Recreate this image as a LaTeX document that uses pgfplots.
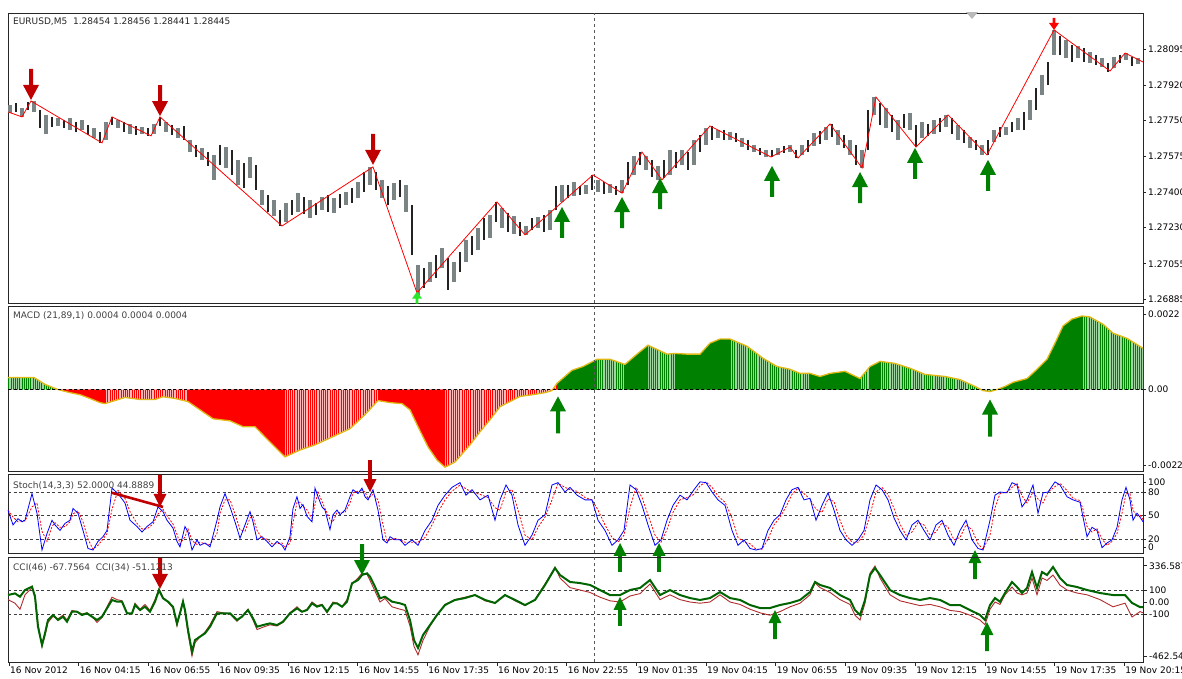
\documentclass[border=0pt]{standalone}
\usepackage{fontspec}
\setmainfont{DejaVu Sans}
\usepackage{pgfplots}
\pgfplotsset{compat=1.18}
\usepackage{pgfplotstable}
\usetikzlibrary{patterns.meta}
\newcommand{\lab}{\fontsize{9}{10}\selectfont}
\definecolor{arrred}{RGB}{192,0,0}
\definecolor{arrgreen}{RGB}{0,128,0}
\definecolor{bargray}{RGB}{122,132,132}
\definecolor{barblack}{RGB}{35,35,35}
\definecolor{mgreen}{RGB}{0,128,0}
\definecolor{lgreen}{RGB}{160,212,160}
\definecolor{mred}{RGB}{255,0,0}
\definecolor{lred}{RGB}{255,185,185}
\definecolor{sig}{RGB}{225,185,20}
\definecolor{ccigreen}{RGB}{0,100,0}
\definecolor{ccibrown}{RGB}{175,45,45}

\pgfdeclareplotmark{bigdn}{\pgfpathmoveto{\pgfqpoint{0pt}{0pt}}\pgfpathlineto{\pgfqpoint{-8pt}{15pt}}\pgfpathlineto{\pgfqpoint{-2pt}{15pt}}\pgfpathlineto{\pgfqpoint{-2pt}{31pt}}\pgfpathlineto{\pgfqpoint{2pt}{31pt}}\pgfpathlineto{\pgfqpoint{2pt}{15pt}}\pgfpathlineto{\pgfqpoint{8pt}{15pt}}\pgfpathclose\pgfusepathqfill}
\pgfdeclareplotmark{bigup}{\pgfpathmoveto{\pgfqpoint{0pt}{0pt}}\pgfpathlineto{\pgfqpoint{-8pt}{-15pt}}\pgfpathlineto{\pgfqpoint{-2pt}{-15pt}}\pgfpathlineto{\pgfqpoint{-2pt}{-31pt}}\pgfpathlineto{\pgfqpoint{2pt}{-31pt}}\pgfpathlineto{\pgfqpoint{2pt}{-15pt}}\pgfpathlineto{\pgfqpoint{8pt}{-15pt}}\pgfpathclose\pgfusepathqfill}
\pgfdeclareplotmark{macdup}{\pgfpathmoveto{\pgfqpoint{0pt}{0pt}}\pgfpathlineto{\pgfqpoint{-8pt}{-15pt}}\pgfpathlineto{\pgfqpoint{-2pt}{-15pt}}\pgfpathlineto{\pgfqpoint{-2pt}{-37pt}}\pgfpathlineto{\pgfqpoint{2pt}{-37pt}}\pgfpathlineto{\pgfqpoint{2pt}{-15pt}}\pgfpathlineto{\pgfqpoint{8pt}{-15pt}}\pgfpathclose\pgfusepathqfill}
\pgfdeclareplotmark{smdn}{\pgfpathmoveto{\pgfqpoint{0pt}{0pt}}\pgfpathlineto{\pgfqpoint{-6.5pt}{13pt}}\pgfpathlineto{\pgfqpoint{-1.8pt}{13pt}}\pgfpathlineto{\pgfqpoint{-1.8pt}{32pt}}\pgfpathlineto{\pgfqpoint{1.8pt}{32pt}}\pgfpathlineto{\pgfqpoint{1.8pt}{13pt}}\pgfpathlineto{\pgfqpoint{6.5pt}{13pt}}\pgfpathclose\pgfusepathqfill}
\pgfdeclareplotmark{smup}{\pgfpathmoveto{\pgfqpoint{0pt}{0pt}}\pgfpathlineto{\pgfqpoint{-6.5pt}{-13pt}}\pgfpathlineto{\pgfqpoint{-1.8pt}{-13pt}}\pgfpathlineto{\pgfqpoint{-1.8pt}{-29pt}}\pgfpathlineto{\pgfqpoint{1.8pt}{-29pt}}\pgfpathlineto{\pgfqpoint{1.8pt}{-13pt}}\pgfpathlineto{\pgfqpoint{6.5pt}{-13pt}}\pgfpathclose\pgfusepathqfill}
\pgfdeclareplotmark{tinydn}{\pgfpathmoveto{\pgfqpoint{0pt}{0pt}}\pgfpathlineto{\pgfqpoint{-5pt}{7pt}}\pgfpathlineto{\pgfqpoint{-1.3pt}{7pt}}\pgfpathlineto{\pgfqpoint{-1.3pt}{12pt}}\pgfpathlineto{\pgfqpoint{1.3pt}{12pt}}\pgfpathlineto{\pgfqpoint{1.3pt}{7pt}}\pgfpathlineto{\pgfqpoint{5pt}{7pt}}\pgfpathclose\pgfusepathqfill}
\pgfdeclareplotmark{tinyup}{\pgfpathmoveto{\pgfqpoint{0pt}{0pt}}\pgfpathlineto{\pgfqpoint{-5pt}{-7pt}}\pgfpathlineto{\pgfqpoint{-1.3pt}{-7pt}}\pgfpathlineto{\pgfqpoint{-1.3pt}{-12pt}}\pgfpathlineto{\pgfqpoint{1.3pt}{-12pt}}\pgfpathlineto{\pgfqpoint{1.3pt}{-7pt}}\pgfpathlineto{\pgfqpoint{5pt}{-7pt}}\pgfpathclose\pgfusepathqfill}

\pgfplotstableread{
x l h
10 1.27785 1.27824
16 1.27790 1.27833
22 1.27766 1.27809
28 1.27800 1.27838
34 1.27790 1.27843
40 1.27712 1.27800
46 1.27684 1.27776
52 1.27717 1.27766
58 1.27722 1.27761
64 1.27712 1.27751
70 1.27703 1.27761
76 1.27693 1.27741
82 1.27703 1.27751
88 1.27679 1.27727
94 1.27664 1.27712
100 1.27639 1.27693
106 1.27654 1.27741
112 1.27727 1.27766
118 1.27712 1.27751
124 1.27693 1.27741
130 1.27684 1.27732
136 1.27679 1.27722
142 1.27684 1.27717
148 1.27674 1.27712
154 1.27684 1.27732
160 1.27722 1.27766
166 1.27693 1.27741
172 1.27679 1.27727
178 1.27664 1.27712
184 1.27654 1.27722
190 1.27596 1.27654
196 1.27572 1.27630
202 1.27558 1.27615
208 1.27529 1.27596
214 1.27461 1.27582
220 1.27534 1.27630
226 1.27519 1.27620
232 1.27485 1.27606
238 1.27437 1.27558
244 1.27422 1.27543
250 1.27470 1.27572
256 1.27412 1.27534
262 1.27340 1.27412
268 1.27306 1.27388
274 1.27287 1.27364
280 1.27238 1.27316
286 1.27257 1.27349
292 1.27292 1.27364
298 1.27306 1.27397
304 1.27296 1.27378
310 1.27277 1.27364
316 1.27292 1.27349
322 1.27316 1.27378
328 1.27306 1.27388
334 1.27301 1.27373
340 1.27325 1.27393
346 1.27340 1.27402
352 1.27349 1.27422
358 1.27373 1.27451
364 1.27402 1.27499
370 1.27437 1.27524
376 1.27412 1.27499
382 1.27373 1.27461
388 1.27340 1.27432
394 1.27364 1.27446
400 1.27378 1.27461
406 1.27306 1.27437
412 1.27098 1.27340
418 1.26904 1.27050
424 1.26938 1.27035
430 1.26967 1.27064
436 1.26987 1.27098
442 1.27035 1.27132
448 1.26928 1.27083
454 1.26967 1.27064
460 1.27016 1.27112
466 1.27064 1.27170
472 1.27098 1.27190
478 1.27122 1.27229
484 1.27170 1.27277
490 1.27180 1.27292
496 1.27257 1.27354
502 1.27229 1.27325
508 1.27209 1.27301
514 1.27200 1.27287
520 1.27190 1.27257
526 1.27195 1.27238
532 1.27219 1.27277
538 1.27229 1.27282
544 1.27209 1.27292
550 1.27219 1.27316
556 1.27316 1.27432
562 1.27354 1.27437
568 1.27373 1.27437
574 1.27383 1.27451
580 1.27388 1.27432
586 1.27393 1.27437
592 1.27412 1.27485
598 1.27402 1.27461
604 1.27393 1.27451
610 1.27397 1.27441
616 1.27388 1.27432
622 1.27397 1.27461
628 1.27437 1.27548
634 1.27485 1.27577
640 1.27534 1.27596
646 1.27509 1.27577
652 1.27475 1.27558
658 1.27461 1.27529
664 1.27470 1.27558
670 1.27485 1.27606
676 1.27519 1.27596
682 1.27534 1.27606
688 1.27509 1.27596
694 1.27534 1.27654
700 1.27596 1.27679
706 1.27630 1.27712
712 1.27654 1.27722
718 1.27664 1.27703
724 1.27654 1.27703
730 1.27654 1.27693
736 1.27645 1.27688
742 1.27620 1.27664
748 1.27606 1.27654
754 1.27596 1.27630
760 1.27582 1.27615
766 1.27572 1.27606
772 1.27572 1.27606
778 1.27582 1.27615
784 1.27591 1.27625
790 1.27596 1.27630
796 1.27567 1.27606
802 1.27582 1.27630
808 1.27596 1.27654
814 1.27625 1.27688
820 1.27635 1.27698
826 1.27654 1.27717
832 1.27669 1.27732
838 1.27630 1.27703
844 1.27615 1.27679
850 1.27582 1.27654
856 1.27534 1.27630
862 1.27519 1.27606
868 1.27606 1.27800
874 1.27776 1.27862
880 1.27727 1.27833
886 1.27712 1.27809
892 1.27693 1.27776
898 1.27654 1.27751
904 1.27712 1.27780
910 1.27703 1.27785
916 1.27620 1.27727
922 1.27664 1.27741
928 1.27674 1.27732
934 1.27684 1.27751
940 1.27693 1.27761
946 1.27717 1.27776
952 1.27684 1.27761
958 1.27654 1.27727
964 1.27640 1.27703
970 1.27615 1.27669
976 1.27606 1.27654
982 1.27582 1.27630
988 1.27582 1.27654
994 1.27645 1.27703
1000 1.27669 1.27717
1006 1.27679 1.27717
1012 1.27693 1.27741
1018 1.27703 1.27761
1024 1.27703 1.27790
1030 1.27751 1.27848
1036 1.27800 1.27906
1042 1.27872 1.27969
1048 1.27920 1.28032
1054 1.28066 1.28187
1060 1.28066 1.28158
1066 1.28051 1.28138
1072 1.28032 1.28114
1078 1.28051 1.28109
1084 1.28032 1.28100
1090 1.28027 1.28080
1096 1.28017 1.28066
1102 1.28008 1.28051
1108 1.27983 1.28027
1114 1.28003 1.28056
1120 1.28027 1.28066
1126 1.28042 1.28075
1132 1.28013 1.28056
1138 1.28022 1.28051
}\price

\pgfplotstableread{
x v
8 0.00035
20 0.00035
34 0.00035
45 0.00015
58 0
70 -0.00009
80 -0.00015
90 -0.00026
100 -0.00038
105 -0.00041
115 -0.00032
125 -0.00023
140 -0.00029
155 -0.00029
163 -0.00021
175 -0.00026
188 -0.00035
200 -0.00059
213 -0.00085
230 -0.00091
243 -0.00108
255 -0.00108
265 -0.00138
275 -0.00167
285 -0.00196
300 -0.00176
315 -0.00161
330 -0.00141
350 -0.00114
365 -0.00073
378 -0.00032
390 -0.00038
402 -0.00041
410 -0.00059
418 -0.00108
428 -0.00167
437 -0.00205
445 -0.00226
455 -0.00211
470 -0.00161
480 -0.00123
490 -0.00088
500 -0.00050
510 -0.00035
520 -0.00020
533 -0.00015
545 -0.00009
552 -0.00003
557 0.00018
572 0.00056
583 0.00067
597 0.00088
610 0.00088
625 0.00073
637 0.00103
648 0.00129
667 0.00103
675 0.00105
687 0.00103
700 0.00103
710 0.00135
720 0.00147
730 0.00147
747 0.00126
763 0.00091
777 0.00067
790 0.00059
800 0.00047
810 0.00047
820 0.00038
830 0.00047
845 0.00053
860 0.00032
870 0.00067
880 0.00082
895 0.00076
910 0.00062
925 0.00044
945 0.00038
960 0.00029
975 0.00009
983 -0.00003
990 -0.00006
997 0
1005 0.00009
1013 0.00021
1027 0.00032
1037 0.00059
1047 0.00088
1055 0.00135
1063 0.00185
1072 0.00205
1082 0.00214
1090 0.00211
1103 0.00190
1113 0.00164
1127 0.00149
1143 0.00120
}\macd

\pgfplotstableread{
x k d
8 57 57
13 38 48
18 46 42
22 42 44
25 44 43
32 78 61
37 53 66
42 6 30
47 27 17
52 44 36
55 38 41
60 31 35
65 40 36
70 44 42
73 59 52
78 53 56
83 31 42
88 8 20
93 6 7
98 17 12
103 23 20
107 31 27
112 85 58
118 78 82
125 66 72
130 44 55
137 36 40
142 29 33
147 36 33
153 42 39
158 61 52
163 55 58
167 44 50
173 34 39
177 17 26
180 10 14
185 36 23
188 29 33
192 6 18
197 19 13
200 12 16
205 15 14
210 10 13
217 44 27
220 61 53
225 78 70
230 61 70
235 42 52
240 21 32
245 38 30
250 55 47
253 42 49
257 19 31
262 23 21
267 17 20
272 10 14
277 17 14
282 12 15
285 6 9
290 23 15
293 59 41
297 74 67
300 59 67
303 64 62
307 49 57
312 42 46
315 85 64
318 74 80
322 61 68
325 57 59
330 32 45
333 51 42
337 57 54
340 51 54
345 57 54
350 74 66
353 83 79
358 78 81
362 85 82
365 74 80
368 70 72
373 83 77
378 57 70
383 19 38
387 15 17
390 23 19
395 19 21
400 19 19
405 12 16
412 19 16
418 12 16
425 31 22
432 44 38
438 63 54
445 76 70
452 86 81
460 92 89
466 76 84
472 83 80
480 70 77
488 76 73
495 44 60
500 70 57
506 89 80
512 76 83
518 38 57
525 12 25
532 25 19
538 44 35
545 51 48
552 89 70
558 92 91
565 80 86
570 86 83
577 76 81
585 70 73
592 70 70
598 44 57
605 31 38
612 12 22
618 19 16
624 31 25
630 89 60
636 83 86
642 63 73
648 38 51
655 12 25
661 19 16
667 44 32
673 63 54
680 76 70
687 70 73
694 83 77
700 93 88
706 92 93
712 80 86
718 70 75
725 63 67
732 31 47
738 12 22
744 19 16
750 8 14
756 6 7
762 8 7
768 31 20
774 44 38
780 51 48
786 70 61
792 83 77
798 86 85
804 70 78
810 72 71
816 44 58
822 63 54
828 79 71
834 57 68
840 31 44
846 19 25
852 12 16
858 19 16
864 31 25
870 70 51
876 89 80
882 83 86
888 70 77
894 47 59
900 31 39
906 19 25
912 38 29
918 44 41
924 31 38
930 19 25
936 38 29
942 44 41
948 25 35
954 12 19
960 31 22
966 44 38
972 19 32
978 8 14
983 6 7
990 44 25
995 76 60
1000 80 78
1007 79 80
1012 92 86
1017 89 91
1022 61 75
1027 70 66
1033 89 80
1038 53 71
1043 79 66
1048 80 80
1055 93 87
1060 89 91
1067 74 82
1073 70 72
1080 67 69
1083 48 58
1087 23 36
1092 35 29
1097 31 33
1102 9 20
1107 15 12
1112 19 17
1117 35 27
1122 70 53
1126 86 78
1130 70 78
1133 44 57
1137 53 49
1140 48 51
1143 42 45
}\stoch

\pgfplotstableread{
x g b
8 58 20
15 72 -10
20 44 -60
25 100 60
32 128 120
35 44 60
38 -206 -180
42 -358 -370
45 -261 -280
48 -150 -170
53 -108 -120
58 -150 -140
63 -122 -110
67 -164 -150
72 -81 -70
77 -81 -80
82 -108 -100
87 -94 -90
92 -122 -120
97 -150 -170
102 -122 -130
107 -53 -40
112 17 40
117 3 20
122 3 10
127 -94 -90
132 -94 -100
135 -25 -10
140 -67 -60
145 -39 -20
150 -81 -70
155 3 20
159 100 110
163 31 40
168 3 0
173 -39 -50
177 -178 -200
180 -94 -90
183 3 10
185 -67 -90
188 -233 -260
192 -414 -450
195 -317 -340
200 -289 -290
205 -261 -250
210 -206 -190
217 -94 -80
223 -94 -90
230 -94 -100
237 -150 -160
242 -122 -120
248 -67 -60
253 -136 -150
257 -206 -230
263 -192 -210
270 -178 -190
277 -192 -200
283 -164 -170
290 -94 -90
297 -53 -40
302 -81 -80
307 -67 -60
312 -11 0
317 -39 -30
322 -25 -20
327 -81 -90
333 -11 0
337 -11 -10
342 -39 -40
347 3 20
352 156 150
358 183 200
362 225 240
367 239 230
370 211 180
375 128 90
380 31 0
385 44 30
392 3 -40
400 -11 -60
405 -25 -70
410 -150 -200
414 -317 -370
418 -383 -440
423 -275 -320
430 -192 -200
437 -108 -110
445 -25 -20
455 17 20
465 33 40
475 58 60
485 17 10
495 -8 -10
505 58 60
515 17 10
525 -25 -30
535 17 20
545 142 150
555 283 290
560 225 200
570 167 120
580 158 100
590 142 80
600 100 40
610 58 10
620 58 0
630 100 50
640 117 70
650 183 150
660 58 20
670 100 60
680 58 20
690 33 0
700 17 -10
710 33 0
720 83 60
730 33 0
740 17 -20
750 -25 -60
760 -50 -90
770 -50 -110
780 -25 -80
790 -8 -40
800 17 -10
810 83 60
815 167 160
820 142 120
830 117 80
840 58 20
850 17 -20
855 -67 -110
860 -108 -150
865 17 -10
870 225 240
875 283 300
880 225 200
890 100 60
900 58 10
910 33 -10
920 17 -30
930 33 -20
940 17 -40
950 -25 -70
960 -25 -80
970 -67 -110
980 -108 -150
985 -150 -190
990 -25 -60
995 33 0
1000 2 -20
1005 75 60
1012 167 125
1017 125 75
1022 75 60
1027 117 75
1032 250 200
1037 117 60
1042 250 200
1047 225 180
1053 292 225
1060 200 140
1067 142 100
1077 125 75
1087 100 60
1100 75 20
1113 58 -40
1125 58 -10
1132 -8 -125
1140 -42 -80
1143 -42 -90
}\cci

\pgfplotsset{
  mtpanel/.style={scale only axis, width=1135pt, anchor=north west, xmin=8, xmax=1143,
    axis line style={black!85, line width=0.9pt},
    tick align=outside, major tick length=3pt,
    tick style={black!85, line width=0.6pt},
    xtick=\empty, scaled y ticks=false, scaled x ticks=false,
    ytick pos=right, yticklabel pos=right,
    yticklabel style={font=\lab, anchor=west, inner sep=0pt, xshift=2pt}},
  lvl/.style={black!75, line width=0.7pt, dash pattern=on 3pt off 2.5pt},
  vsep/.style={black!65, line width=0.8pt, dash pattern=on 3pt off 3pt},
  pbar/.style 2 args={draw=none, mark=none, error bars/.cd, y dir=minus, y explicit, error mark=none,
    error bar style={draw=#1, line width=#2}},
}

\begin{document}
\begin{tikzpicture}[x=1pt,y=1pt]
\path[use as bounding box] (0pt,0pt) rectangle (1182pt,-678pt);

% ---------------- main price panel
\begin{axis}[mtpanel, at={(8pt,-13pt)}, height=290pt, ymin=1.26865, ymax=1.28269,
  ytick={1.28095,1.2792,1.2775,1.27575,1.274,1.2723,1.27055,1.26885},
  yticklabels={1.28095,1.27920,1.27750,1.27575,1.27400,1.27230,1.27055,1.26885}]
\addplot[x filter/.code={\ifodd\coordindex\relax\def\pgfmathresult{}\fi}, pbar={bargray}{3.2pt}]
  table[x=x, y=h, y error expr=\thisrow{h}-\thisrow{l}] {\price};
\addplot[x filter/.code={\ifodd\coordindex\relax\else\def\pgfmathresult{}\fi}, pbar={barblack}{2.6pt}]
  table[x=x, y=h, y error expr=\thisrow{h}-\thisrow{l}] {\price};
\addplot[vsep] coordinates {(594,1.26865) (594,1.28269)};
\addplot[red, line width=0.8pt] coordinates {(8,1.27790) (22,1.27766) (31,1.27843) (102,1.27640) (112,1.27766) (151,1.27674) (160,1.27766) (282,1.27238) (373,1.27524) (417,1.26914) (497,1.27354) (525,1.27195) (593,1.27485) (622,1.27397) (642,1.27596) (662,1.27461) (710,1.27722) (771,1.27572) (790,1.27620) (798,1.27567) (830,1.27732) (862,1.27519) (876,1.27862) (916,1.27620) (948,1.27776) (987,1.27582) (1054,1.28187) (1110,1.27988) (1125,1.28075) (1143,1.28032)};
\addplot[only marks, mark=bigdn, color=arrred] coordinates {(31,1.27848) (160,1.27770) (373,1.27534)};
\addplot[only marks, mark=tinydn, color=red] coordinates {(1054,1.28187)};
\addplot[only marks, mark=tinyup, color={rgb,255:red,40;green,230;blue,40}] coordinates {(417,1.26920)};
\addplot[only marks, mark=bigup, color=arrgreen] coordinates {(562,1.27330) (622,1.27378) (660,1.27470) (772,1.27529) (860,1.27499) (915,1.27616) (988,1.27558)};
\end{axis}

% ---------------- MACD panel
\begin{axis}[mtpanel, at={(8pt,-306pt)}, height=165pt, ymin=-0.00237, ymax=0.00243,
  ytick={0.0022,0,-0.0022}, yticklabels={0.0022,0.00,-0.0022}]
\addplot[draw=none, fill=lgreen, restrict x to domain=8:58] table[x=x,y=v]{\macd} \closedcycle;
\addplot[draw=none, pattern={Lines[angle=90,distance=2.2pt,line width=0.9pt]}, pattern color=mgreen, restrict x to domain=8:58] table[x=x,y=v]{\macd} \closedcycle;
\addplot[draw=none, fill=lred, restrict x to domain=58:557] table[x=x,y=v]{\macd} \closedcycle;
\addplot[draw=none, pattern={Lines[angle=90,distance=2.2pt,line width=0.9pt]}, pattern color=mred, restrict x to domain=58:557] table[x=x,y=v]{\macd} \closedcycle;
\addplot[draw=none, fill=lgreen, restrict x to domain=557:1143] table[x=x,y=v]{\macd} \closedcycle;
\addplot[draw=none, pattern={Lines[angle=90,distance=2.2pt,line width=0.9pt]}, pattern color=mgreen, restrict x to domain=557:1143] table[x=x,y=v]{\macd} \closedcycle;
\addplot[draw=none, fill=mred, restrict x to domain=58:105] table[x=x,y=v]{\macd} \closedcycle;
\addplot[draw=none, fill=mred, restrict x to domain=188:285] table[x=x,y=v]{\macd} \closedcycle;
\addplot[draw=none, fill=mred, restrict x to domain=378:445] table[x=x,y=v]{\macd} \closedcycle;
\addplot[draw=none, fill=mgreen, restrict x to domain=557:597] table[x=x,y=v]{\macd} \closedcycle;
\addplot[draw=none, fill=mgreen, restrict x to domain=625:648] table[x=x,y=v]{\macd} \closedcycle;
\addplot[draw=none, fill=mgreen, restrict x to domain=675:730] table[x=x,y=v]{\macd} \closedcycle;
\addplot[draw=none, fill=mgreen, restrict x to domain=805:860] table[x=x,y=v]{\macd} \closedcycle;
\addplot[draw=none, fill=mgreen, restrict x to domain=870:880] table[x=x,y=v]{\macd} \closedcycle;
\addplot[draw=none, fill=mgreen, restrict x to domain=997:1082] table[x=x,y=v]{\macd} \closedcycle;
\addplot[sig, line width=1.3pt] table[x=x,y=v]{\macd};
\addplot[lvl, black] coordinates {(8,0) (1143,0)};
\addplot[vsep] coordinates {(594,-0.00237) (594,0.00243)};
\addplot[only marks, mark=macdup, color=arrgreen] coordinates {(558,-0.00020) (990,-0.00029)};
\end{axis}

% ---------------- Stochastic panel
\begin{axis}[mtpanel, at={(8pt,-474pt)}, height=79pt, ymin=2.2, ymax=103,
  ytick={92,80,50,20,10}, yticklabels={100,80,50,20,0}]
\addplot[lvl] coordinates {(8,80) (1143,80)};
\addplot[lvl] coordinates {(8,50) (1143,50)};
\addplot[lvl] coordinates {(8,20) (1143,20)};
\addplot[vsep] coordinates {(594,2.2) (594,103)};
\addplot[red, line width=0.8pt, dash pattern=on 2pt off 1.5pt] table[x=x,y=d]{\stoch};
\addplot[blue, line width=0.8pt] table[x=x,y=k]{\stoch};
\addplot[arrred, line width=2.6pt] coordinates {(112,79) (163,61)};
\addplot[only marks, mark=smdn, color=arrred] coordinates {(160,61) (370,80)};
\addplot[only marks, mark=smup, color=arrgreen] coordinates {(620,15) (659,15) (975,6)};
\end{axis}

% ---------------- CCI panel
\begin{axis}[mtpanel, at={(8pt,-557pt)}, height=105pt, ymin=-500, ymax=375,
  ytick={302,100,0,-100,-450}, yticklabels={336.587,100,0.00,-100,-462.546},
  xtick={9,78.7,148.4,218.1,287.8,357.5,427.2,496.9,566.6,636.3,706,775.7,845.4,915.1,984.8,1054.5,1124.2},
  xticklabels={16 Nov 2012,16 Nov 04:15,16 Nov 06:55,16 Nov 09:35,16 Nov 12:15,16 Nov 14:55,16 Nov 17:35,16 Nov 20:15,16 Nov 22:55,19 Nov 01:35,19 Nov 04:15,19 Nov 06:55,19 Nov 09:35,19 Nov 12:15,19 Nov 14:55,19 Nov 17:35,19 Nov 20:15},
  xtick pos=left, major tick length=4pt,
  xticklabel style={font=\lab, anchor=north west, inner sep=0pt, xshift=1pt, yshift=-1pt}]
\addplot[lvl] coordinates {(8,100) (1143,100)};
\addplot[lvl] coordinates {(8,-100) (1143,-100)};
\addplot[vsep] coordinates {(594,-500) (594,375)};
\addplot[ccibrown, line width=0.9pt] table[x=x,y=b]{\cci};
\addplot[ccigreen, line width=2pt] table[x=x,y=g]{\cci};
\addplot[only marks, mark=bigdn, color=arrred] coordinates {(160,110)};
\addplot[only marks, mark=bigdn, color=arrgreen] coordinates {(362,225)};
\addplot[only marks, mark=smup, color=arrgreen] coordinates {(620,42) (775,-67) (987,-167)};
\end{axis}

% ---------------- panel captions
\node[anchor=west, inner sep=0pt, font=\lab, text=black!85] at (13pt,-22pt) {EURUSD,M5\ \ 1.28454 1.28456 1.28441 1.28445};
\node[anchor=west, inner sep=0pt, font=\lab, text=black!75] at (13pt,-316pt) {MACD (21,89,1) 0.0004 0.0004 0.0004};
\node[anchor=west, inner sep=0pt, font=\lab, text=black!75] at (13pt,-486pt) {Stoch(14,3,3) 52.0000 44.8889};
\node[anchor=west, inner sep=0pt, font=\lab, text=black!75] at (13pt,-568pt) {CCI(46) -67.7564\ \ CCI(34) -51.1213};
\fill[gray!55] (966pt,-12pt) -- (978pt,-12pt) -- (972pt,-19pt) -- cycle;
\end{tikzpicture}
\end{document}
